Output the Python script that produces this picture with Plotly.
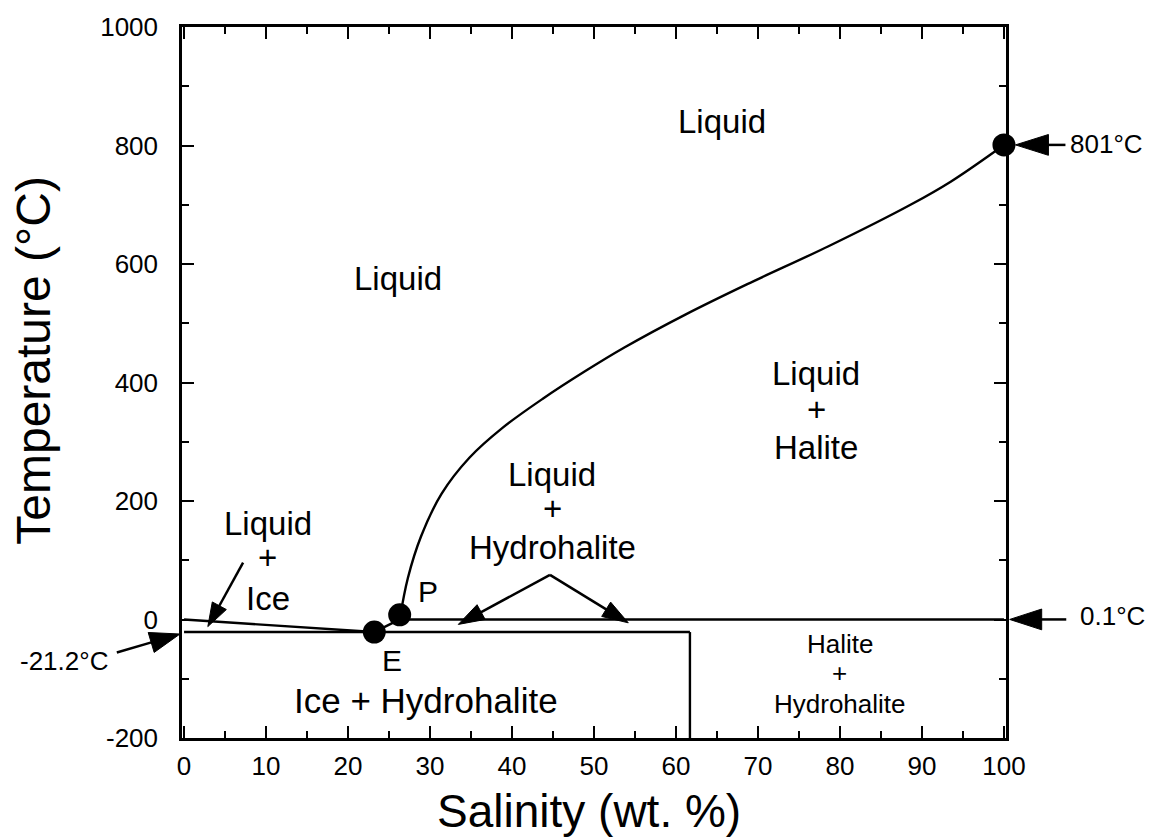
import math
import plotly.graph_objects as go

# ---------------- data ----------------
# halite liquidus (Liquid / Liquid+Halite boundary), from P to NaCl melting point
halite_x = [26.3, 27.3, 28.9, 31.4, 34.8, 38.8, 43.8, 48.8, 53.7, 61.2, 68.7, 78.6, 88.6, 93.5, 100.0]
halite_y = [0.1, 70, 140, 212, 273, 323, 373, 418, 459, 515, 566, 630, 700, 739, 801]

# ice liquidus (Liquid / Liquid+Ice boundary)
ice_x = [0.0, 23.2]
ice_y = [0.0, -21.2]

# hydrohalite liquidus E -> P
ep_x = [23.2, 26.3]
ep_y = [-21.2, 0.1]

# isotherms / isopleth
eutectic_x = [0.0, 61.7]
eutectic_y = [-21.2, -21.2]
peritectic_x = [26.3, 100.0]
peritectic_y = [0.1, 0.1]
hh_x = [61.7, 61.7]
hh_y = [-21.2, -200.0]

# invariant points (E, P, NaCl melting point)
pt_x = [23.2, 26.3, 100.0]
pt_y = [-21.2, 8.0, 801.0]

# axis ticks
x_range = [-0.25, 100.25]
y_range = [-200, 1000]
x_ticks = [0, 10, 20, 30, 40, 50, 60, 70, 80, 90, 100]
x_tick_text = ["0", "10", "20", "30", "40", "50", "60", "70", "80", "90", "100"]
y_ticks = [-200, 0, 200, 400, 600, 800, 1000]
y_tick_text = ["-200", "0", "200", "400", "600", "800", "1000"]

# region labels, one entry per text line: text, x, y, font size
labels = [
    ("Liquid", 65.6, 841, 33),
    ("Liquid", 26.1, 575, 33),
    ("Liquid", 77.1, 416, 33), ("+", 77.1, 354, 33), ("Halite", 77.1, 291, 33),
    ("Liquid", 44.9, 245, 33), ("+", 44.9, 188, 33), ("Hydrohalite", 44.9, 121, 33),
    ("Liquid", 10.2, 162, 33), ("+", 10.2, 104, 33), ("Ice", 10.2, 35, 33),
    ("Halite", 80.0, -42, 26), ("+", 80.0, -91, 26), ("Hydrohalite", 80.0, -142, 26),
    ("Ice + Hydrohalite", 29.5, -136, 35),
    ("P", 29.8, 48, 30),
    ("E", 25.4, -69, 30),
]

# side labels of the arrows outside the frame: text, x, y, anchor
side_labels = [
    ("801°C", 107.8, 803, "left"),
    ("0.1°C", 109.0, 6, "left"),
    ("-21.2°C", -9.0, -70, "right"),
]

FONT = "Liberation Sans, Arial, Helvetica, sans-serif"

# ---------------- layout geometry ----------------
W, H = 1161, 837
ML, MR, MT, MB = 182, 155, 20, 99
PW, PH = W - ML - MR, H - MT - MB


def to_paper(x, y):
    return ((x - x_range[0]) / (x_range[1] - x_range[0]),
            (y - y_range[0]) / (y_range[1] - y_range[0]))


def to_px(x, y):
    a, b = to_paper(x, y)
    return a * PW, b * PH


def pth(points, close=False):
    s = ""
    for i, (px, py) in enumerate(points):
        s += ("M" if i == 0 else "L") + f"{px / PW:.5f},{py / PH:.5f} "
    if close:
        s += "Z"
    return s


shapes = []


def add_arrow(tip, tail, head_len, head_half, width=2.5):
    tx, ty = to_px(*tip)
    sx, sy = to_px(*tail)
    vx, vy = tx - sx, ty - sy
    n = math.hypot(vx, vy)
    ux, uy = vx / n, vy / n
    bx, by = tx - head_len * ux, ty - head_len * uy
    nx, ny = -uy, ux
    c1 = (bx + head_half * nx, by + head_half * ny)
    c2 = (bx - head_half * nx, by - head_half * ny)
    shapes.append(dict(type="path", xref="paper", yref="paper",
                       path=pth([(sx, sy), (bx + 2 * ux, by + 2 * uy)]),
                       line=dict(color="black", width=width), layer="above"))
    shapes.append(dict(type="path", xref="paper", yref="paper",
                       path=pth([(tx, ty), c1, c2], close=True),
                       fillcolor="black", line=dict(color="black", width=1), layer="above"))


# arrows: tip, tail (data units), head length, head half-width (px)
add_arrow((101.4, 801), (107.5, 801), 33, 10.5)
add_arrow((100.7, 0.1), (107.6, 0.1), 32, 10.5)
add_arrow((-0.5, -24.5), (-8.2, -55.8), 30, 10.5)
add_arrow((2.9, -12), (7.2, 96), 24, 8)
add_arrow((33.45, -8.3), (44.63, 75.3), 26, 8.5)
add_arrow((54.18, -5.6), (44.63, 75.3), 26, 8.5)

fig = go.Figure()
line_style = dict(color="black", width=2.4)
for xs, ys in [(halite_x, halite_y), (ice_x, ice_y), (ep_x, ep_y),
               (eutectic_x, eutectic_y), (peritectic_x, peritectic_y), (hh_x, hh_y)]:
    fig.add_trace(go.Scatter(x=xs, y=ys, mode="lines",
                             line=dict(shape="spline", smoothing=1.0, **line_style),
                             hoverinfo="skip", showlegend=False, cliponaxis=False))

fig.add_trace(go.Scatter(x=pt_x, y=pt_y, mode="markers",
                         marker=dict(size=23, color="black"), showlegend=False, cliponaxis=False))

annotations = []
for text, x, y, size in labels:
    annotations.append(dict(text=text, x=x, y=y, xref="x", yref="y", showarrow=False,
                            font=dict(family=FONT, size=size, color="black"), align="center"))

for text, x, y, anchor in side_labels:
    px_, py_ = to_paper(x, y)
    annotations.append(dict(text=text, x=px_, y=py_, xref="paper", yref="paper", showarrow=False,
                            xanchor=anchor, yanchor="middle",
                            font=dict(family=FONT, size=26, color="black")))

# axis titles (placed as text to match the reference positions)
annotations.append(dict(text="Temperature (°C)", x=(34 - ML) / PW, y=(738 - 357) / PH,
                        xref="paper", yref="paper", showarrow=False, textangle=-90,
                        xanchor="center", yanchor="middle",
                        font=dict(family=FONT, size=48, color="black")))
annotations.append(dict(text="Salinity (wt. %)", x=(588.5 - ML) / PW, y=(738 - 812) / PH,
                        xref="paper", yref="paper", showarrow=False,
                        xanchor="center", yanchor="middle",
                        font=dict(family=FONT, size=46, color="black")))

axis_common = dict(showline=True, linewidth=2.5, linecolor="black", mirror="ticks",
                   ticks="inside", ticklen=12, tickwidth=2, tickcolor="black",
                   showgrid=False, zeroline=False,
                   tickfont=dict(family=FONT, size=26, color="black"))

fig.update_layout(
    width=W, height=H,
    margin=dict(l=ML, r=MR, t=MT, b=MB, pad=0),
    paper_bgcolor="white", plot_bgcolor="white",
    font=dict(family=FONT, color="black"),
    shapes=shapes, annotations=annotations,
    xaxis=dict(range=x_range, tickvals=x_ticks, ticktext=x_tick_text, ticklabelstandoff=3,
               minor=dict(ticks="inside", ticklen=7, tickwidth=2, dtick=5, tick0=0, tickcolor="black", showgrid=False),
               **axis_common),
    yaxis=dict(range=y_range, tickvals=y_ticks, ticktext=y_tick_text, ticklabelstandoff=16,
               minor=dict(ticks="inside", ticklen=7, tickwidth=2, dtick=100, tick0=0, tickcolor="black", showgrid=False),
               **axis_common),
)

fig.write_html("out.html")
